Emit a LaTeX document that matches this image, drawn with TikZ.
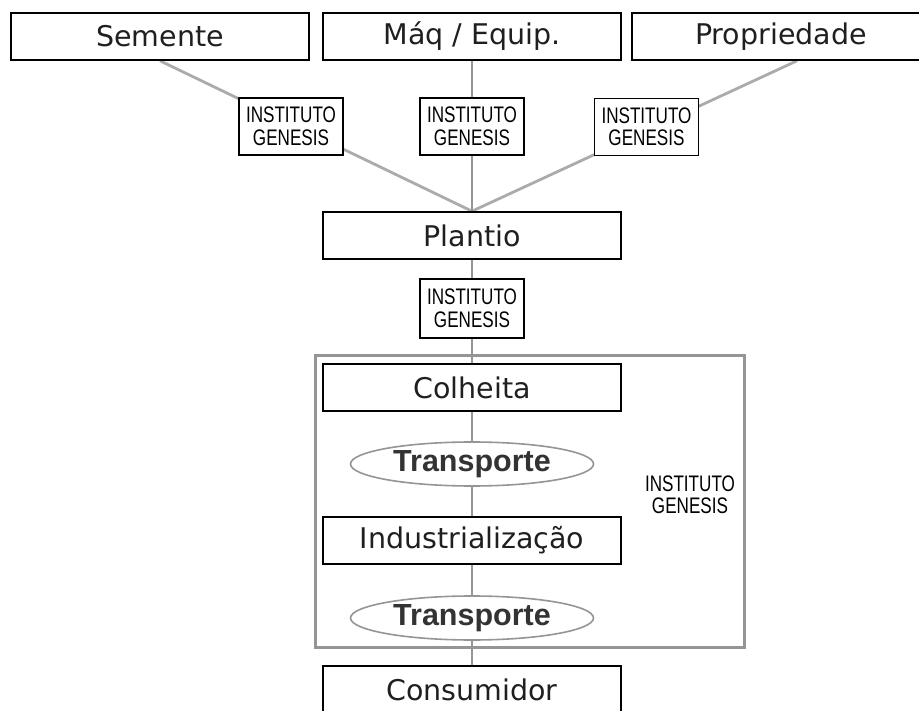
\documentclass[tikz,border=0pt]{standalone}
\usepackage{fontspec}
\setmainfont{DejaVu Sans}
\newfontfamily\arialfont{Liberation Sans}
\newfontfamily\narrowfont[FakeStretch=0.76]{Liberation Sans}
\usetikzlibrary{shapes.geometric,backgrounds,calc}
\definecolor{ligacinza}{HTML}{ABABAB}
\definecolor{eixocinza}{HTML}{959595}

\begin{document}
\begin{tikzpicture}[x=1pt,y=-1pt,
    etapa/.style={draw, line width=1.6pt, fill=white, minimum width=298pt,
      minimum height=47pt, inner sep=0pt, text=black!88,
      font=\fontsize{28.5}{30}\selectfont},
    inst/.style={draw, line width=1.3pt, fill=white, minimum width=104pt,
      minimum height=57pt, inner sep=0pt, align=center,
      font=\narrowfont\fontsize{22.5}{22.5}\selectfont},
    transp/.style={draw=eixocinza, ellipse, line width=1.6pt, fill=white,
      minimum width=243pt, minimum height=44pt, inner sep=0pt, text=black!80,
      font=\arialfont\bfseries\fontsize{30.5}{31}\selectfont},
    liga/.style={draw=ligacinza, line width=2.8pt},
    eixo/.style={draw=eixocinza, line width=2pt}]
  \useasboundingbox (0,0) rectangle (919,711);

    % Top row
    \node[etapa] (semente) at (160, 36.5) {Semente};
    \node[etapa] (maq) at (472, 36.5) {Máq / Equip.};
    \node[etapa] (prop) at (781, 36.5) {Propriedade};

    \node[inst] (ig1) at (291, 126.5) {INSTITUTO\\GENESIS};
    \node[inst] (ig2) at (472, 126.5) {INSTITUTO\\GENESIS};
    \node[inst] (ig3) at (646.5, 127) {INSTITUTO\\GENESIS};

    % Middle
    \node[etapa] (plantio) at (472, 235.5) {Plantio};
    \node[inst, minimum height=59pt] (ig4) at (472, 308.5) {INSTITUTO\\GENESIS};

    % Chain inside the frame
    \node[draw=eixocinza, line width=3pt, minimum width=429pt,
      minimum height=291pt] (cadeia) at (529.5, 501.5) {};
    \node[font=\narrowfont\fontsize{22.5}{22.5}\selectfont, align=center]
      (igcadeia) at (690, 495) {INSTITUTO\\GENESIS};

    \node[etapa] (colheita) at (472, 387.5) {Colheita};
    \node[transp] (transp1) at (472, 464) {Transporte};
    \node[etapa] (indust) at (472, 540.5) {Industrialização};
    \node[transp] (transp2) at (472, 618) {Transporte};

    % End node
    \node[etapa] (consumidor) at (472, 689.5) {Consumidor};

    \begin{scope}[on background layer]
      \draw[liga] (semente.south) -- (plantio.north);
      \draw[liga] ($(prop.south)+(16,0)$) -- (plantio.north);
      \draw[eixo] (maq.south) -- (plantio.north);
      \draw[eixo] (plantio.south) -- (colheita.north);
      \draw[eixo] (colheita.south) -- (transp1.north);
      \draw[eixo] (transp1.south) -- (indust.north);
      \draw[eixo] (indust.south) -- (transp2.north);
      \draw[eixo] (transp2.south) -- (consumidor.north);
    \end{scope}

\end{tikzpicture}
\end{document}
